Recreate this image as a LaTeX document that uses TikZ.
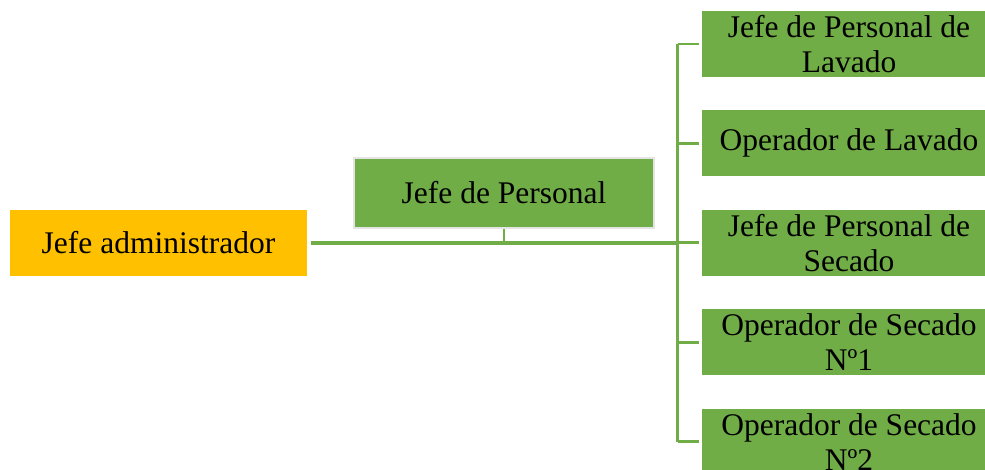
\documentclass[tikz,border=0pt]{standalone}
\usepackage{fontspec}
\setmainfont{Liberation Serif}
\usepackage{xcolor}
\usetikzlibrary{positioning}
\definecolor{orggreen}{HTML}{70AD47}
\definecolor{orgyellow}{HTML}{FFC000}
\definecolor{orgrim}{HTML}{E4E4E4}

\begin{document}
\begin{tikzpicture}[
    x=1pt, y=1pt,
    node distance=33pt,
    font=\fontsize{31.5}{35}\selectfont,
    every node/.style={align=center, inner sep=0pt},
    boss/.style={fill=orgyellow, minimum width=297pt, minimum height=66pt},
    chief/.style={fill=orggreen, draw=orgrim, line width=2pt, minimum width=300pt, minimum height=70pt},
    role/.style={fill=orggreen, minimum width=294pt, minimum height=66pt},
    trunk/.style={draw=orggreen, line width=3.3pt},
    branch/.style={draw=orggreen, line width=2.6pt},
]
\useasboundingbox (0,0) rectangle (985,-470);

% --- Left: administrator and staff chief
\node[boss]  (admin) at (158.5,-243) {Jefe administrador};
\node[chief] (jefe)  at (504,-193)   {Jefe de Personal};

% --- Right column of roles
\node[role] (lavjefe)             at (849,-44) {Jefe de Personal de\\Lavado};
\node[role, below=of lavjefe] (lavop)   {Operador de Lavado};
\node[role, below=of lavop]   (secjefe) {Jefe de Personal de\\Secado};
\node[role, below=of secjefe] (secop1)  {Operador de Secado\\Nº1};
\node[role, below=of secop1]  (secop2)  {Operador de Secado\\Nº2};

% --- Connectors
\coordinate (spine) at (677.5,-243);
\draw[trunk] ([xshift=4pt]admin.east) -- (spine);
\draw[branch] (jefe.south) -- (jefe.south |- spine);
\draw[branch, line width=3pt] (spine |- lavjefe.west) -- (spine |- secop2.west);
\foreach \r in {lavjefe, lavop, secjefe, secop1, secop2}
    \draw[branch, shorten >=3pt] (spine |- \r.west) -- (\r.west);

\end{tikzpicture}
\end{document}
